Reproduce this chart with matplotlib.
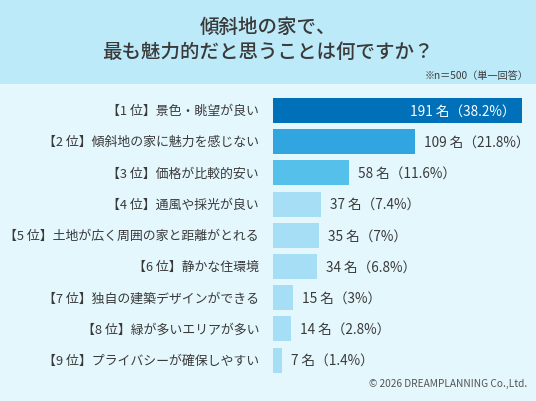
import matplotlib.pyplot as plt
import matplotlib.patches as mpatches

plt.rcParams['font.family'] = ['Noto Sans CJK JP', 'DejaVu Sans']

# データ（n=500）
ranks = ['1', '2', '3', '4', '5', '6', '7', '8', '9']
items = ['景色・眺望が良い', '傾斜地の家に魅力を感じない', '価格が比較的安い',
         '通風や採光が良い', '土地が広く周囲の家と距離がとれる', '静かな住環境',
         '独自の建築デザインができる', '緑が多いエリアが多い', 'プライバシーが確保しやすい']
counts = [191, 109, 58, 37, 35, 34, 15, 14, 7]
pcts = ['38.2', '21.8', '11.6', '7.4', '7', '6.8', '3', '2.8', '1.4']
colors = ['#0071b9', '#31a5e0', '#55c1eb', '#a6dff5', '#a6dff5', '#a6dff5',
          '#a6dff5', '#a6dff5', '#a6dff5']

W, H = 536, 402
fig = plt.figure(figsize=(W / 100, H / 100), dpi=100)
fig.patch.set_facecolor('#e4f7fd')
# ヘッダー帯
fig.add_artist(mpatches.Rectangle((0, 1 - 85 / H), 1, 85 / H, transform=fig.transFigure,
                                  facecolor='#bdeaf9', edgecolor='none', zorder=0))

x0 = 273
top = 85
ax = fig.add_axes([x0 / W, 0, 1 - x0 / W, (H - top) / H])
ax.set_facecolor('none')
scale = 1.304
step = 31.2
c0 = 111.5
ax.set_xlim(0, (W - x0) / scale)
ax.set_ylim((H - c0) / step, (top - c0) / step)
ypos = list(range(len(counts)))
ax.barh(ypos, counts, height=0.8, color=colors)
ax.axis('off')

txt = '#3a3a3a'
for i, (r, it, n, p) in enumerate(zip(ranks, items, counts, pcts)):
    fig.text(259 / W, 1 - (c0 + step * i) / H, '【' + r + ' 位】' + it,
             ha='right', va='center', fontsize=9.3, color=txt)
    lab = f'{n} 名（{p}%）'
    if i == 0:
        ax.text(n - 5, i, lab, ha='right', va='center', fontsize=9.8, color='white')
    else:
        ax.text(n + 7, i, lab, ha='left', va='center', fontsize=9.8, color=txt)

fig.text(0.5, 1 - 27 / H, '傾斜地の家で、', ha='center', va='center',
         fontsize=14, color=txt, fontweight='medium')
fig.text(0.5, 1 - 52 / H, '最も魅力的だと思うことは何ですか？', ha='center', va='center',
         fontsize=14, color=txt, fontweight='medium')
fig.text(528 / W, 1 - 76 / H, '※n＝500（単一回答）', ha='right', va='center',
         fontsize=7.3, color=txt)
fig.text(527 / W, 1 - 384 / H, '© 2026 DREAMPLANNING Co.,Ltd.', ha='right', va='center',
         fontsize=7.3, color='#555555')

fig.savefig('out.png', dpi=100, facecolor=fig.get_facecolor())
